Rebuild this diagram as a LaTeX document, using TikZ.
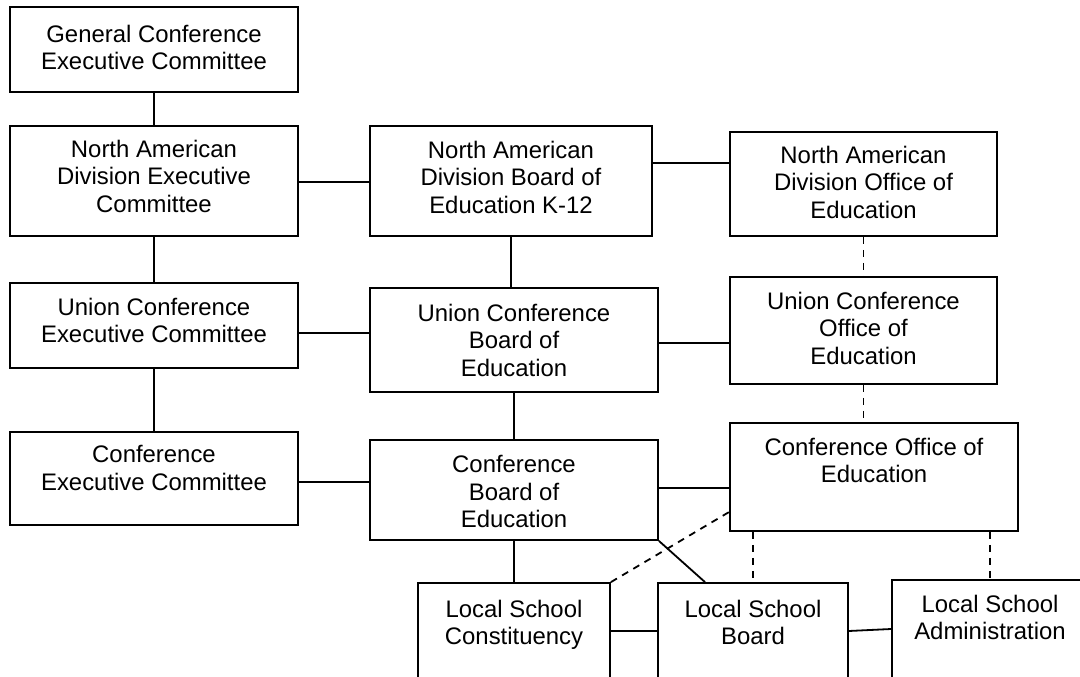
\documentclass[tikz,border=0pt]{standalone}
\usepackage{fontspec}
\setmainfont{Liberation Sans}
\usetikzlibrary{fit}
\tikzset{
  boxst/.style={draw=black, line width=1.8pt, inner sep=0pt, fill=none},
  txt/.style={align=center, inner sep=0pt, anchor=north, font=\fontsize{23.9}{27.5}\selectfont},
  conn/.style={draw=black, line width=1.8pt},
  dconn/.style={draw=black, line width=1.8pt, dash pattern=on 7pt off 6pt},
}
\newcommand\mybox[7]{%
  \node[boxst, fit={(#2,#3) (#4,#5)}] (#1) {};
  \node[txt] (#1-t) at (#6) {#7};
}
\begin{document}
\begin{tikzpicture}[x=1pt,y=-1pt]
\useasboundingbox (0,0) rectangle (1080,677);
\clip (0,0) rectangle (1080,677);
\fill[white] (0,0) rectangle (1080,677);
% boxes: name, x1,y1,x2,y2, text top, text
\mybox{gc}{10}{7}{298}{92}{154,24.5}{General Conference\\Executive Committee}
\mybox{nade}{10}{126}{298}{236}{154,139.5}{North American\\Division Executive\\Committee}
\mybox{uce}{10}{283}{298}{368}{154,297.5}{Union Conference\\Executive Committee}
\mybox{ce}{10}{432}{298}{525}{154,445.5}{Conference\\Executive Committee}
\mybox{nadb}{370}{126}{652}{236}{511,140.5}{North American\\Division Board of\\Education K-12}
\mybox{ucb}{370}{288}{658}{392}{514,303.5}{Union Conference\\Board of\\Education}
\mybox{cb}{370}{440}{658}{540}{514,455.5}{Conference\\Board of\\Education}
\mybox{nado}{730}{132}{997}{236}{863.5,145.5}{North American\\Division Office of\\Education}
\mybox{uco}{730}{277}{997}{384}{863.5,291.5}{Union Conference\\Office of\\Education}
\mybox{co}{730}{423}{1018}{531}{874,437.5}{Conference Office of\\Education}
\mybox{lsc}{418}{583}{610}{720}{514,599.5}{Local School\\Constituency}
\mybox{lsb}{658}{583}{848}{720}{753,599.5}{Local School\\Board}
\mybox{lsa}{892}{580}{1100}{720}{990,594.5}{Local School\\Administration}
% solid connectors
\draw[conn] (gc.south) -- (nade.north);
\draw[conn] (nade.south) -- (uce.north);
\draw[conn] (uce.south) -- (ce.north);
\draw[conn] (nade.east |- 0,182) -- (nadb.west |- 0,182);
\draw[conn] (nadb.east |- 0,163) -- (nado.west |- 0,163);
\draw[conn] (nadb.south) -- (nadb.south |- ucb.north);
\draw[conn] (uce.east |- 0,333) -- (ucb.west |- 0,333);
\draw[conn] (ucb.east |- 0,343) -- (uco.west |- 0,343);
\draw[conn] (ucb.south) -- (cb.north);
\draw[conn] (ce.east |- 0,482) -- (cb.west |- 0,482);
\draw[conn] (cb.east |- 0,488) -- (co.west |- 0,488);
\draw[conn] (cb.south) -- (lsc.north);
\draw[conn] (cb.south east) -- (lsb.north west -| 705,0);
\draw[conn] (lsc.east |- 0,631) -- (lsb.west |- 0,631);
\draw[conn] (lsb.east |- 0,631) -- (lsa.west |- 0,629);
% dashed connectors
\draw[dconn] (nado.south) -- (uco.north);
\draw[dconn] (uco.south) -- (uco.south |- co.north);
\draw[dconn] (lsc.north east) -- (co.west |- 0,512);
\draw[dconn] (co.south -| lsb.north) -- (lsb.north);
\draw[dconn] (co.south -| lsa-t.north) -- (lsa.north -| lsa-t.north);
\end{tikzpicture}
\end{document}
